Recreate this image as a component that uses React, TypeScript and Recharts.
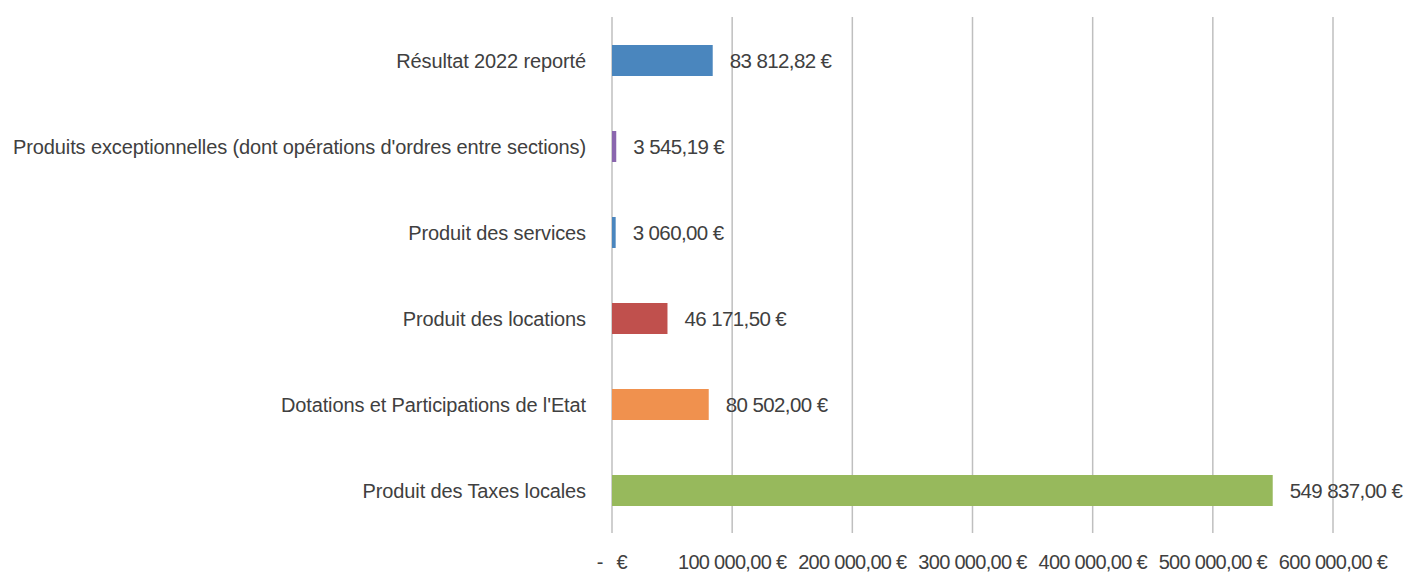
import React from "react";
import { BarChart, Bar, XAxis, YAxis, CartesianGrid, Cell, LabelList } from "recharts";

const categories = [
  "Résultat 2022 reporté",
  "Produits exceptionnelles (dont opérations d'ordres entre sections)",
  "Produit des services",
  "Produit des locations",
  "Dotations et Participations de l'Etat",
  "Produit des Taxes locales",
];
const values = [83812.82, 3545.19, 3060.0, 46171.5, 80502.0, 549837.0];
const barColors = ["#4A86BE", "#8A66AE", "#4A86BE", "#C0504D", "#F0914E", "#97B95C"];
const xTicks = [0, 100000, 200000, 300000, 400000, 500000, 600000];

const data = categories.map((name, i) => ({ name, value: values[i] }));

const FONT = "'Liberation Sans', Arial, sans-serif";
const TEXT = "#404040";

function fmtEuro(v: number): string {
  const [intPart, dec] = v.toFixed(2).split(".");
  const grouped = intPart.replace(/\B(?=(\d{3})+(?!\d))/g, " ");
  return `${grouped},${dec} €`;
}

const XTick = (props: any) => {
  const { x, y, payload } = props;
  if (payload.value === 0) {
    return (
      <g>
        <text x={x - 12} y={y + 28} textAnchor="middle" fill={TEXT} fontSize={20} fontFamily={FONT}>-</text>
        <text x={x + 10} y={y + 28} textAnchor="middle" fill={TEXT} fontSize={20} fontFamily={FONT}>€</text>
      </g>
    );
  }
  return (
    <text x={x} y={y + 28} textAnchor="middle" fill={TEXT} fontSize={20} fontFamily={FONT} letterSpacing={-0.7}>
      {fmtEuro(payload.value)}
    </text>
  );
};

const YTick = (props: any) => {
  const { x, y, payload } = props;
  return (
    <text x={x - 18} y={y} dy={7.5} textAnchor="end" fill={TEXT} fontSize={20} fontFamily={FONT} letterSpacing={-0.12}>
      {payload.value}
    </text>
  );
};

const ValueLabel = (props: any) => {
  const { x, y, width, height, value } = props;
  return (
    <text x={x + width + 17} y={y + height / 2} dy={7.5} textAnchor="start" fill={TEXT} fontSize={20.5} fontFamily={FONT} letterSpacing={-0.6}>
      {fmtEuro(value)}
    </text>
  );
};

export default function App() {
  return (
    <div style={{ position: "absolute", left: 0, top: 0, width: 1407, height: 574, background: "#fff" }}>
      <BarChart
        width={1407}
        height={574}
        data={data}
        layout="vertical"
        margin={{ top: 17, right: 74, bottom: 0, left: 0 }}
        barCategoryGap={0}
      >
        <CartesianGrid horizontal={false} stroke="#BFBFBF" strokeWidth={1.5} />
        <XAxis
          type="number"
          domain={[0, 600000]}
          ticks={xTicks}
          axisLine={false}
          tickLine={false}
          height={41}
          tick={<XTick />}
          interval={0}
        />
        <YAxis
          type="category"
          dataKey="name"
          width={612}
          axisLine={false}
          tickLine={false}
          tick={<YTick />}
          interval={0}
        />
        <Bar dataKey="value" barSize={31} isAnimationActive={false}>
          {data.map((d, i) => (
            <Cell key={d.name} fill={barColors[i]} />
          ))}
          <LabelList dataKey="value" content={<ValueLabel />} />
        </Bar>
      </BarChart>
    </div>
  );
}
